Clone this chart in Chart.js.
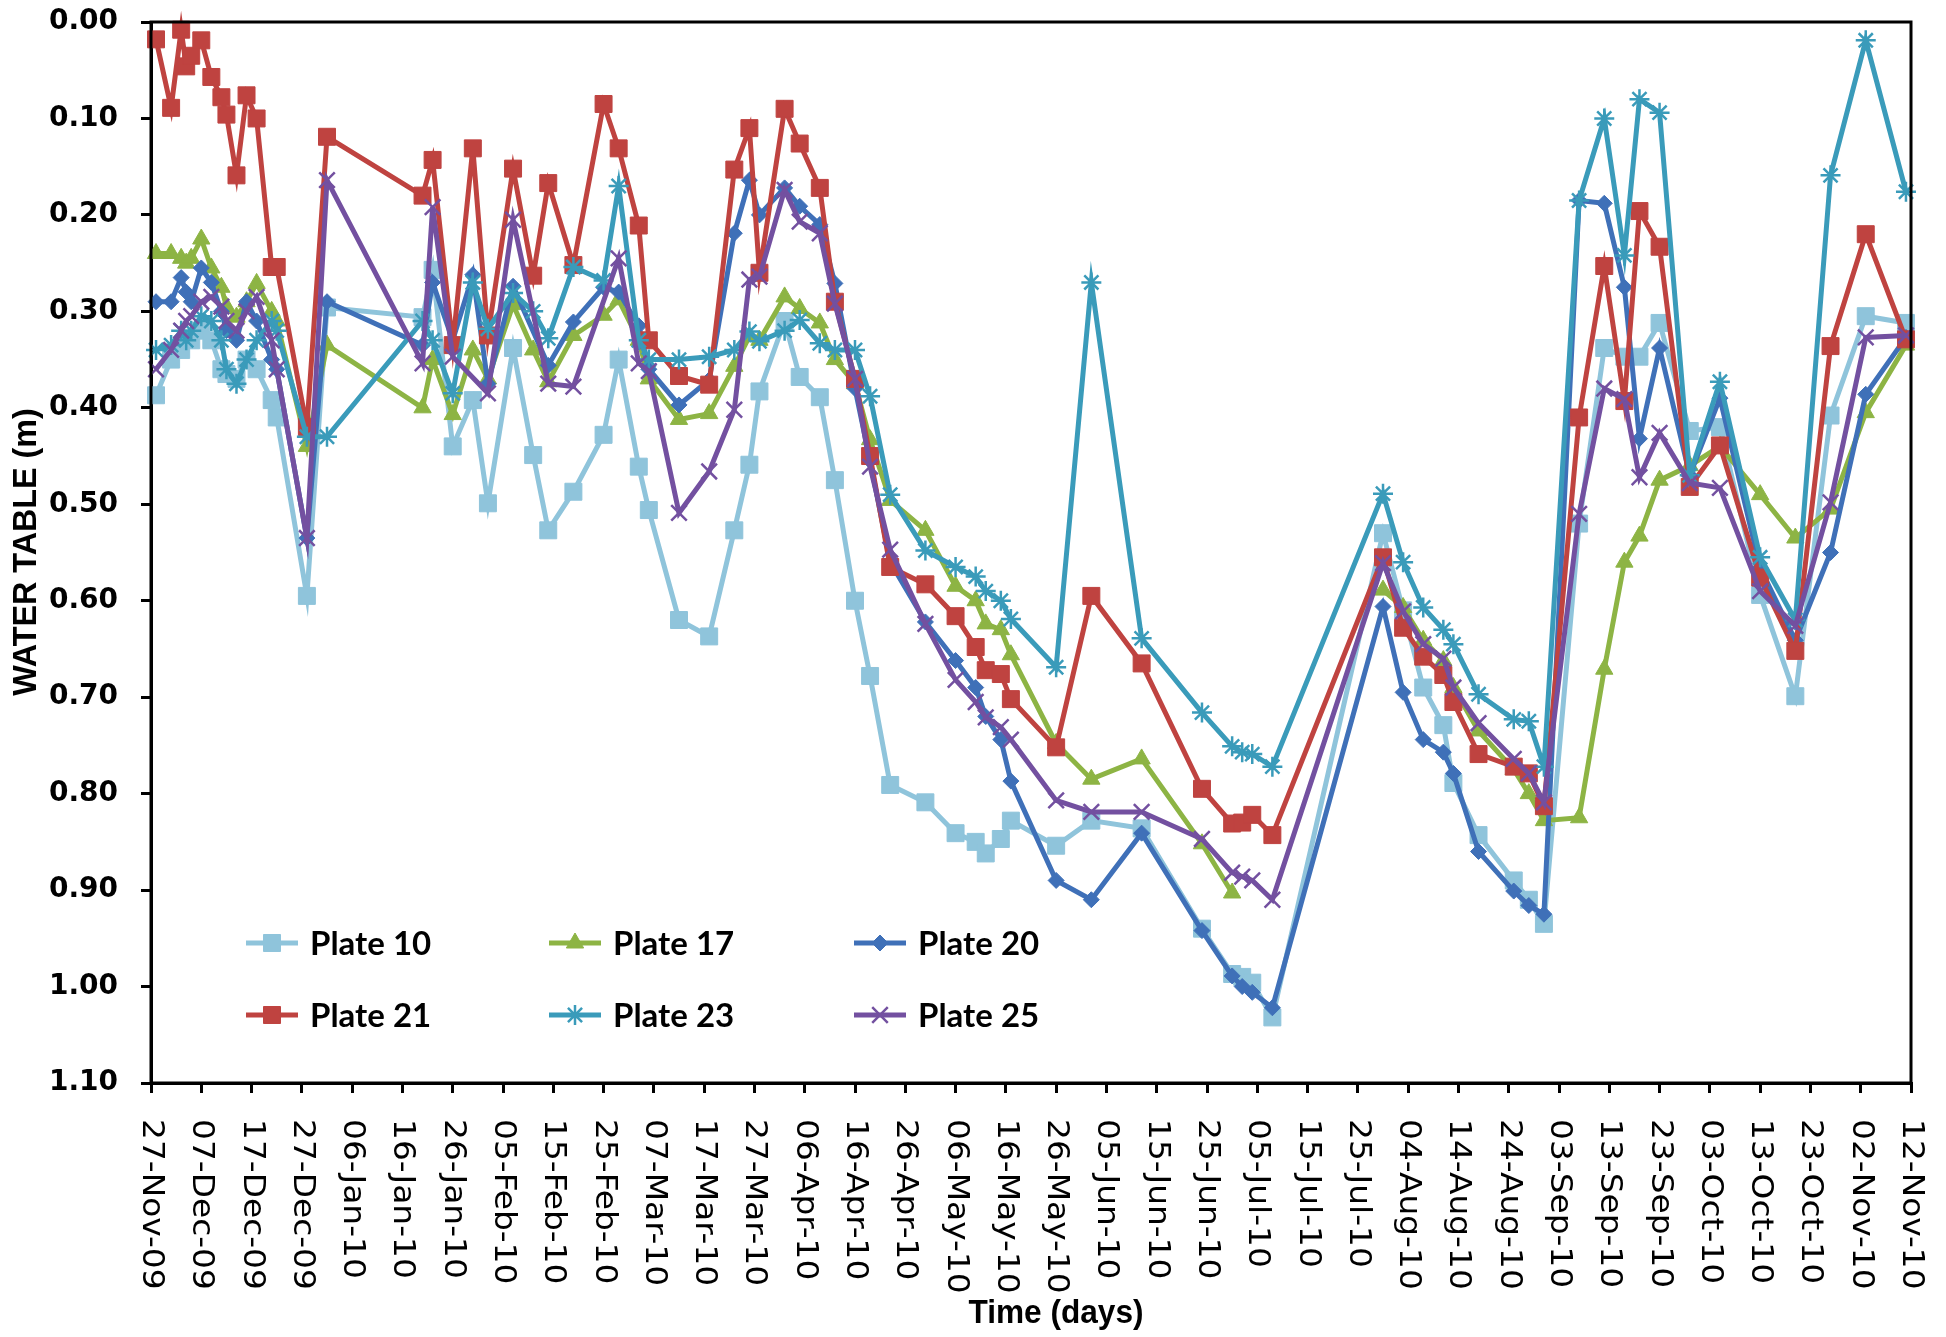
<!DOCTYPE html>
<html>
<head>
<meta charset="utf-8">
<title>Water table</title>
<script src="https://cdn.jsdelivr.net/npm/chart.js@4.4.1/dist/chart.umd.min.js"></script>
<style>
  html, body { margin: 0; padding: 0; background: #fff; }
  canvas { display: block; }
</style>
</head>
<body>
<canvas id="wt" width="1946" height="1337"></canvas>
<script>
// sampling days, counted from 27-Nov-09
var days = [1, 4, 6, 7, 8, 10, 12, 14, 15, 17,
  19, 21, 24, 25, 31, 35, 54, 56, 60, 64,
  67, 72, 76, 79, 84, 90, 93, 97, 99, 105,
  111, 116, 119, 121, 126, 129, 133, 136, 140, 143,
  147, 154, 160, 164, 166, 169, 171, 180, 187, 197,
  209, 215, 217, 219, 223, 245, 249, 253, 257, 259,
  264, 271, 274, 277, 284, 289, 293, 296, 300, 306,
  312, 320, 327, 334, 341, 349];

var plate10 = [0.387, 0.35, 0.34, null, 0.33, 0.32, 0.33, 0.36, 0.365, 0.37,
  0.35, 0.36, 0.392, 0.41, 0.595, 0.296, 0.306, 0.257, 0.44, 0.392,
  0.499, 0.338, 0.449, 0.527, 0.487, 0.428, 0.35, 0.461, 0.506, 0.62,
  0.637, 0.527, 0.459, 0.383, 0.31, 0.368, 0.389, 0.475, 0.60, 0.678,
  0.791, 0.809, 0.841, 0.85, 0.862, 0.847, 0.828, 0.854, 0.828, 0.836,
  0.94, 0.987, 0.99, 0.996, 1.032, 0.53, 0.61, 0.69, 0.729, 0.789,
  0.843, 0.89, 0.91, 0.935, 0.52, 0.338, 0.347, 0.347, 0.312, 0.424,
  0.42, 0.594, 0.699, 0.408, 0.305, 0.312];

var plate17 = [0.24, 0.24, 0.245, 0.25, 0.245, 0.225, 0.255, 0.275, 0.295, 0.306,
  0.29, 0.271, 0.30, 0.31, 0.44, 0.335, 0.40, 0.35, 0.407, 0.34,
  0.37, 0.293, 0.34, 0.373, 0.325, 0.304, 0.288, 0.33, 0.37, 0.412,
  0.406, 0.357, 0.326, 0.33, 0.285, 0.297, 0.312, 0.35, 0.375, 0.433,
  0.496, 0.527, 0.585, 0.60, 0.624, 0.63, 0.656, 0.748, 0.785, 0.764,
  0.852, 0.903, null, null, null, 0.589, 0.607, 0.641, 0.662, 0.69,
  0.735, 0.775, 0.80, 0.828, 0.825, 0.671, 0.56, 0.533, 0.475, 0.46,
  0.44, 0.49, 0.535, 0.505, 0.405, 0.335];

var plate20 = [0.29, 0.29, 0.265, 0.28, 0.29, 0.255, 0.27, 0.30, 0.32, 0.33,
  0.29, 0.31, 0.35, 0.36, 0.535, 0.29, 0.335, 0.27, 0.33, 0.262,
  0.375, 0.274, null, 0.356, 0.311, 0.275, 0.28, 0.315, 0.36, 0.397,
  0.371, 0.219, 0.164, 0.2, 0.172, 0.191, 0.21, 0.271, 0.38, 0.455,
  0.56, 0.622, 0.662, 0.69, 0.72, 0.744, 0.787, 0.89, 0.91, 0.841,
  0.942, 0.989, 1.0, 1.006, 1.022, 0.606, 0.695, 0.744, 0.757, 0.779,
  0.86, 0.901, 0.916, 0.925, 0.185, 0.188, 0.275, 0.432, 0.338, 0.47,
  0.39, 0.566, 0.641, 0.55, 0.386, 0.327];

var plate21 = [0.018, 0.089, 0.008, 0.046, 0.035, 0.019, 0.057, 0.078, 0.096, 0.159,
  0.076, 0.10, 0.254, 0.254, 0.42, 0.119, 0.18, 0.143, 0.335, 0.131,
  0.325, 0.152, 0.263, 0.167, 0.252, 0.085, 0.131, 0.211, 0.33, 0.367,
  0.376, 0.153, 0.11, 0.26, 0.09, 0.126, 0.172, 0.29, 0.37, 0.45,
  0.565, 0.583, 0.616, 0.648, 0.672, 0.676, 0.702, 0.752, 0.595, 0.665,
  0.795, 0.831, 0.83, 0.822, 0.843, 0.555, 0.628, 0.658, 0.677, 0.705,
  0.759, 0.772, 0.779, 0.813, 0.41, 0.253, 0.393, 0.196, 0.233, 0.482,
  0.439, 0.576, 0.652, 0.336, 0.22, 0.329];

var plate23 = [0.34, 0.335, 0.32, 0.33, 0.32, 0.305, 0.31, 0.33, 0.36, 0.375,
  0.35, 0.33, 0.31, 0.32, 0.43, 0.43, 0.31, 0.33, 0.385, 0.27,
  0.318, 0.281, 0.30, 0.328, 0.254, 0.268, 0.17, 0.33, 0.35, 0.35,
  0.347, 0.34, 0.321, 0.331, 0.32, 0.309, 0.333, 0.34, 0.34, 0.388,
  0.49, 0.548, 0.565, 0.575, 0.59, 0.60, 0.619, 0.669, 0.27, 0.639,
  0.716, 0.751, 0.757, 0.759, 0.772, 0.489, 0.56, 0.607, 0.63, 0.645,
  0.697, 0.723, 0.725, 0.772, 0.185, 0.10, 0.242, 0.08, 0.094, 0.47,
  0.373, 0.555, 0.62, 0.159, 0.019, 0.176];

var plate25 = [0.36, 0.34, 0.32, 0.31, 0.305, 0.29, 0.285, 0.295, 0.31, 0.32,
  0.30, 0.285, 0.33, 0.36, 0.535, 0.164, 0.354, 0.192, 0.347, null,
  0.385, 0.205, null, 0.375, 0.378, null, 0.245, 0.354, 0.362, 0.509,
  0.466, 0.402, 0.267, 0.264, 0.174, 0.207, 0.219, 0.292, 0.37, 0.461,
  0.547, 0.624, 0.682, 0.705, 0.721, 0.731, 0.744, 0.807, 0.819, 0.819,
  0.847, 0.882, 0.886, 0.89, 0.91, 0.561, 0.611, 0.645, 0.66, 0.69,
  0.727, 0.764, 0.779, 0.809, 0.51, 0.38, 0.391, 0.472, 0.426, 0.478,
  0.483, 0.59, 0.626, 0.498, 0.327, 0.325];

var xLabels = ['27-Nov-09', '07-Dec-09', '17-Dec-09', '27-Dec-09', '06-Jan-10', '16-Jan-10',
  '26-Jan-10', '05-Feb-10', '15-Feb-10', '25-Feb-10', '07-Mar-10', '17-Mar-10',
  '27-Mar-10', '06-Apr-10', '16-Apr-10', '26-Apr-10', '06-May-10', '16-May-10',
  '26-May-10', '05-Jun-10', '15-Jun-10', '25-Jun-10', '05-Jul-10', '15-Jul-10',
  '25-Jul-10', '04-Aug-10', '14-Aug-10', '24-Aug-10', '03-Sep-10', '13-Sep-10',
  '23-Sep-10', '03-Oct-10', '13-Oct-10', '23-Oct-10', '02-Nov-10', '12-Nov-10'];

var yLabels = ['0.00', '0.10', '0.20', '0.30', '0.40', '0.50', '0.60',
  '0.70', '0.80', '0.90', '1.00', '1.10'];

function pts(vals) {
  return days.map(function (d, i) { return {x: d, y: vals[i]}; });
}

function series(label, vals, color, style, radius, bw, order) {
  return {
    label: label,
    data: pts(vals),
    borderColor: color,
    backgroundColor: color,
    borderWidth: 5,
    pointStyle: style,
    pointRadius: radius,
    pointBorderWidth: bw,
    pointBackgroundColor: color,
    pointBorderColor: color,
    spanGaps: true,
    tension: 0,
    clip: 14,
    order: order
  };
}

var datasets = [
  series('Plate 10', plate10, '#8fc4db', 'rect', 12, 1, 6),
  series('Plate 17', plate17, '#8db444', 'triangle', 10, 1, 5),
  series('Plate 20', plate20, '#3f70b8', 'rectRot', 8, 1, 4),
  series('Plate 21', plate21, '#bf4340', 'rect', 12, 1, 3),
  series('Plate 23', plate23, '#3a9bba', 'star', 10, 2.5, 2),
  series('Plate 25', plate25, '#7350a0', 'crossRot', 11, 2.5, 1)
];
datasets[1].spanGaps = false;

// legend slots: [line start x, y]
var legendSpots = [[246, 943], [549, 943], [854, 943], [246, 1015], [549, 1015], [854, 1015]];

var deco = {
  id: 'deco',
  afterDraw: function (chart) {
    var ctx = chart.ctx, a = chart.chartArea;
    var x = chart.scales.x, y = chart.scales.y;
    ctx.save();

    ctx.strokeStyle = '#000';
    ctx.lineWidth = 3;
    ctx.strokeRect(a.left, a.top, a.right - a.left, a.bottom - a.top);

    ctx.fillStyle = '#000';
    ctx.font = 'bold 28px "DejaVu Sans"';
    ctx.textAlign = 'right';
    ctx.textBaseline = 'middle';
    y.ticks.forEach(function (t) {
      var k = Math.round(t.value * 10);
      ctx.fillText(yLabels[k], a.left - 33, y.getPixelForValue(t.value));
    });

    ctx.font = '31px "DejaVu Sans"';
    ctx.textAlign = 'left';
    x.ticks.forEach(function (t) {
      var k = Math.round(t.value / 10);
      ctx.save();
      ctx.translate(x.getPixelForValue(t.value), a.bottom + 36);
      ctx.rotate(Math.PI / 2);
      ctx.scale(1.06, 1);
      ctx.fillText(xLabels[k], 0, 0);
      ctx.restore();
    });

    ctx.font = 'bold 34px "Liberation Sans"';
    ctx.textAlign = 'center';
    ctx.save();
    ctx.translate(27, 552);
    ctx.rotate(-Math.PI / 2);
    ctx.scale(0.95, 1);
    ctx.fillText('WATER TABLE (m)', 0, 0);
    ctx.restore();

    ctx.save();
    ctx.translate(1056, 1314);
    ctx.scale(0.93, 1);
    ctx.fillText('Time (days)', 0, 0);
    ctx.restore();

    // legend
    datasets.forEach(function (ds, i) {
      var sx = legendSpots[i][0], sy = legendSpots[i][1];
      ctx.strokeStyle = ds.borderColor;
      ctx.fillStyle = ds.borderColor;
      ctx.lineWidth = 5;
      ctx.beginPath();
      ctx.moveTo(sx, sy);
      ctx.lineTo(sx + 52, sy);
      ctx.stroke();
      ctx.lineWidth = ds.pointBorderWidth;
      if (Chart.helpers && Chart.helpers.drawPoint) {
        Chart.helpers.drawPoint(ctx, {pointStyle: ds.pointStyle, rotation: 0,
          radius: ds.pointRadius, borderWidth: ds.pointBorderWidth}, sx + 26, sy);
      }
      ctx.fillStyle = '#000';
      ctx.font = 'bold 33px "Lato"';
      ctx.textAlign = 'left';
      ctx.textBaseline = 'middle';
      ctx.fillText(ds.label, sx + 64, sy + 1);
    });

    ctx.restore();
  }
};

var axisGrid = {display: true, drawOnChartArea: false, drawTicks: true, tickLength: 10, color: '#000', lineWidth: 3};

new Chart(document.getElementById('wt'), {
  type: 'line',
  data: {datasets: datasets},
  options: {
    responsive: false,
    animation: false,
    layout: {autoPadding: false, padding: {left: 141, top: 22, right: 35, bottom: 244}},
    plugins: {legend: {display: false}, tooltip: {enabled: false}},
    scales: {
      x: {
        type: 'linear', min: 0, max: 350,
        ticks: {stepSize: 10, display: false},
        grid: axisGrid,
        border: {display: true, color: '#000', width: 3}
      },
      y: {
        type: 'linear', reverse: true, min: 0, max: 1.1,
        ticks: {stepSize: 0.1, display: false},
        grid: axisGrid,
        border: {display: true, color: '#000', width: 3}
      }
    }
  },
  plugins: [deco]
});
</script>
</body>
</html>
